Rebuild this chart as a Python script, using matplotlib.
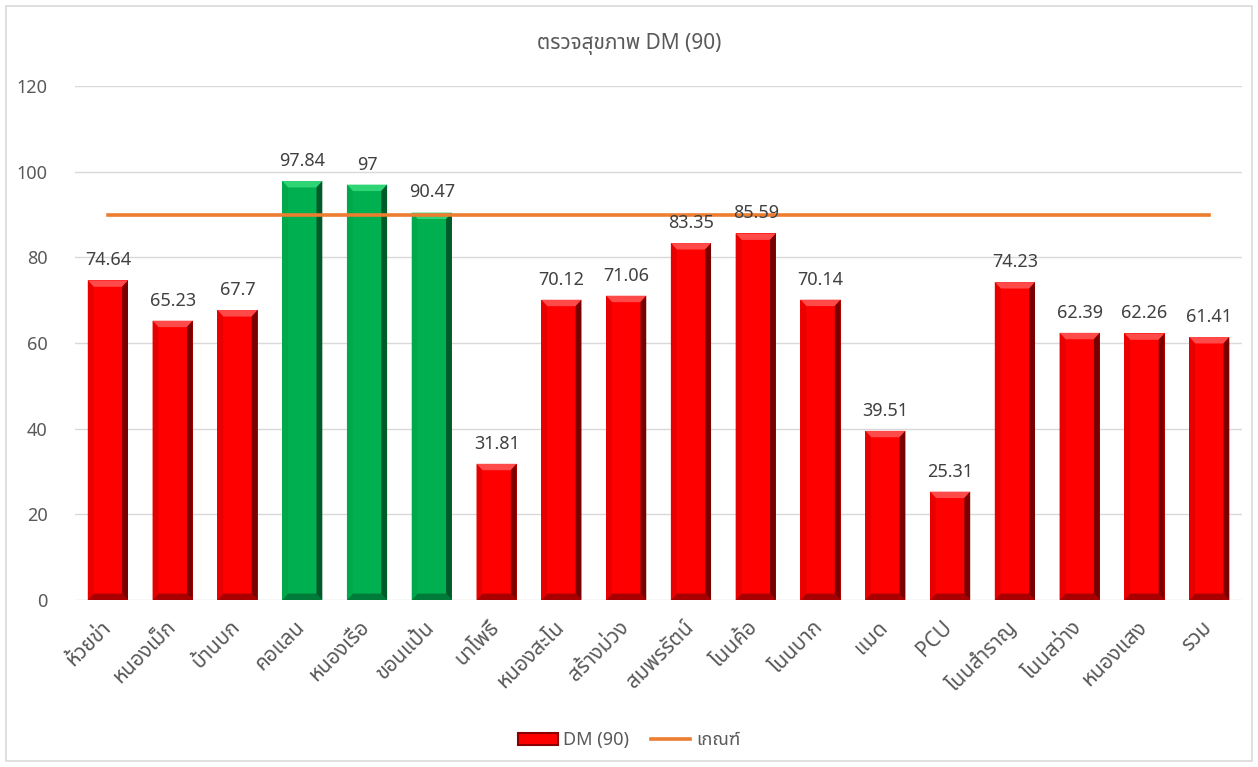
import matplotlib
matplotlib.use("Agg")
import matplotlib.pyplot as plt
from matplotlib import font_manager
from matplotlib.ft2font import FT2Font
from matplotlib.patches import Polygon, Patch, Rectangle
from matplotlib.lines import Line2D
from matplotlib.transforms import ScaledTranslation

# data
categories = ["ห้วยข่า", "หนองเม็ก", "บ้านบก", "คอแลน", "หนองเรือ", "ขอนแป้น",
              "นาโพธิ์", "หนองสะโน", "สร้างม่วง", "สมพรรัตน์", "โนนค้อ", "โนนบาก",
              "แมด", "PCU", "โนนสำราญ", "โนนสว่าง", "หนองแสง", "รวม"]
dm_values = [74.64, 65.23, 67.7, 97.84, 97, 90.47,
             31.81, 70.12, 71.06, 83.35, 85.59, 70.14,
             39.51, 25.31, 74.23, 62.39, 62.26, 61.41]
value_labels = ["74.64", "65.23", "67.7", "97.84", "97", "90.47",
                "31.81", "70.12", "71.06", "83.35", "85.59", "70.14",
                "39.51", "25.31", "74.23", "62.39", "62.26", "61.41"]
criterion = 90
title = "ตรวจสุขภาพ DM (90)"
series_name = "DM (90)"
line_name = "เกณฑ์"


def find_thai_font():
    prefer = ["Noto Sans Thai", "Noto Sans Thai UI", "Noto Sans Thai Looped",
              "Leelawadee UI", "Tahoma", "Loma", "Garuda", "Waree", "Umpush",
              "Sawasdee", "Tlwg Typo", "Kinnari", "Norasi"]
    found = []
    for f in font_manager.fontManager.ttflist:
        try:
            if 0x0E01 in FT2Font(f.fname).get_charmap():
                found.append(f.name)
        except Exception:
            pass
    for p in prefer:
        if p in found:
            return p
    return found[0] if found else None


thai = find_thai_font()
fams = ([thai] if thai else []) + ["DejaVu Sans"]
plt.rcParams["font.family"] = fams

fig = plt.figure(figsize=(12.58, 7.67), dpi=100)
ax = fig.add_axes([0.060, 0.2177, 0.927, 0.670])

# outer chart border
fig.patches.append(Rectangle((0.005, 0.008), 0.99, 0.984, transform=fig.transFigure,
                             fill=False, edgecolor="#d9d9d9", linewidth=1.2))

x = list(range(len(categories)))
width = 0.62
bx = 0.09   # bevel width in x units
by = 1.5    # bevel height in y units

red = dict(main="#ff0000", top="#ff4a4a", left="#e80000", right="#7a0000", bottom="#a80000")
green = dict(main="#00b050", top="#2fd474", left="#00a84c", right="#005a2a", bottom="#007a38")

bars = ax.bar(x, dm_values, width=width, color="#ff0000", zorder=2, linewidth=0)
for b, v in zip(bars, dm_values):
    pal = green if v >= criterion else red
    b.set_facecolor(pal["main"])
    x0 = b.get_x()
    x1 = x0 + b.get_width()
    h = b.get_height()
    polys = [
        ([(x0, h), (x1, h), (x1 - bx, h - by), (x0 + bx, h - by)], pal["top"]),
        ([(x0, 0), (x1, 0), (x1 - bx, by), (x0 + bx, by)], pal["bottom"]),
        ([(x0, 0), (x0 + bx, by), (x0 + bx, h - by), (x0, h)], pal["left"]),
        ([(x1, 0), (x1 - bx, by), (x1 - bx, h - by), (x1, h)], pal["right"]),
    ]
    for pts, c in polys:
        ax.add_patch(Polygon(pts, closed=True, facecolor=c, edgecolor="none", zorder=2.5))

ax.plot(x, [criterion] * len(x), color="#ed7d31", linewidth=2.6, zorder=3)

for xi, v, lab in zip(x, dm_values, value_labels):
    ax.annotate(lab, (xi, v), xytext=(0, 8), textcoords="offset points",
                ha="center", va="bottom", fontsize=13, color="#404040", zorder=4)

ax.set_xlim(-0.5, len(categories) - 0.5)
ax.set_ylim(0, 120)
ax.set_yticks(range(0, 121, 20))
ax.yaxis.grid(True, color="#d9d9d9", linewidth=1)
ax.set_axisbelow(True)
for s in ax.spines.values():
    s.set_visible(False)
ax.tick_params(axis="both", length=0, colors="#595959", labelsize=13)
ax.tick_params(axis="y", pad=20)
ax.set_xticks(x)
ax.set_xticklabels(categories, rotation=45, ha="right", rotation_mode="anchor", fontsize=15)
ax.tick_params(axis="x", pad=12)
shift = ScaledTranslation(-8 / 100, 0, fig.dpi_scale_trans)
for lbl in ax.get_xticklabels():
    lbl.set_transform(lbl.get_transform() + shift)

fig.text(0.5, 0.942, title, ha="center", va="center", fontsize=15, color="#595959")

handles = [Patch(facecolor="#ff0000", edgecolor="#8b0000", linewidth=1.5),
           Line2D([0], [0], color="#ed7d31", linewidth=2.6)]
fig.legend(handles, [series_name, line_name], loc="center", bbox_to_anchor=(0.5, 0.035),
           ncol=2, frameon=False, fontsize=13, labelcolor="#595959",
           handlelength=2.2, columnspacing=1.2, handletextpad=0.3)

fig.savefig("out.png", dpi=100)
